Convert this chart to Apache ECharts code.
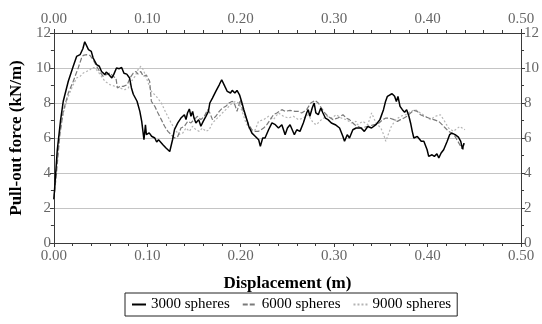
<!DOCTYPE html>
<html>
<head>
<meta charset="utf-8">
<script src="https://cdn.jsdelivr.net/npm/echarts@6/dist/echarts.min.js"></script>
<style>
  html, body { margin: 0; padding: 0; background: #fff; }
  #chart { width: 542px; height: 324px; }
</style>
</head>
<body>
<div id="chart"></div>
<script>
// displacement (m), pull-out force (kN/m)
var spheres3000 = [[0,2.5],[0.0036,5.3],[0.0071,7.0],[0.010,8.1],[0.0154,9.24],[0.0207,10.1],[0.0243,10.66],[0.028,10.76],[0.031,11.1],[0.033,11.5],[0.037,11.05],[0.040,10.95],[0.042,10.57],[0.0457,10.19],[0.0486,10.1],[0.051,9.8],[0.0546,9.62],[0.056,9.77],[0.059,9.62],[0.062,9.43],[0.064,9.62],[0.067,10.0],[0.070,9.96],[0.0725,10.03],[0.075,9.7],[0.078,9.65],[0.081,9.43],[0.083,8.86],[0.085,8.5],[0.087,8.6],[0.089,8.1],[0.092,7.52],[0.094,6.95],[0.0964,5.9],[0.098,6.76],[0.099,6.19],[0.102,6.29],[0.1046,6.1],[0.108,6.0],[0.110,5.77],[0.112,5.9],[0.1136,6.0],[0.1167,5.62],[0.120,5.43],[0.124,5.23],[0.1255,5.33],[0.127,5.9],[0.129,6.47],[0.1326,6.86],[0.136,7.14],[0.1397,7.33],[0.1414,7.05],[0.143,7.43],[0.145,7.66],[0.1467,7.24],[0.1485,7.52],[0.150,7.14],[0.152,6.86],[0.155,7.05],[0.1573,6.67],[0.1598,6.95],[0.1627,7.24],[0.1654,7.52],[0.1669,8.0],[0.1697,8.28],[0.1733,8.66],[0.177,9.04],[0.1796,9.33],[0.181,9.42],[0.183,8.95],[0.1856,8.66],[0.189,8.57],[0.1909,8.72],[0.1937,8.57],[0.196,8.72],[0.1987,8.47],[0.2008,8.1],[0.2033,7.62],[0.206,7.14],[0.2086,6.67],[0.212,6.28],[0.2157,6.09],[0.2192,5.9],[0.221,5.52],[0.2235,6.0],[0.226,6.0],[0.2298,6.47],[0.2334,6.86],[0.237,6.76],[0.2404,6.57],[0.244,6.76],[0.2475,6.19],[0.250,6.57],[0.2528,6.76],[0.2574,6.19],[0.260,6.47],[0.2634,6.38],[0.267,6.86],[0.2705,7.43],[0.2722,7.62],[0.274,7.24],[0.2765,7.71],[0.2786,8.0],[0.2804,7.43],[0.283,7.33],[0.2857,7.71],[0.288,7.43],[0.2906,7.14],[0.2934,7.05],[0.297,6.86],[0.3012,6.76],[0.3058,6.57],[0.3094,6.09],[0.3111,5.81],[0.314,6.19],[0.3164,6.0],[0.320,6.47],[0.3235,6.57],[0.3253,6.67],[0.3288,6.57],[0.3323,6.38],[0.336,6.66],[0.340,6.57],[0.3447,6.76],[0.349,7.05],[0.3528,7.62],[0.355,8.09],[0.357,8.38],[0.3598,8.47],[0.362,8.53],[0.3647,8.38],[0.3666,8.09],[0.3683,8.38],[0.3705,7.81],[0.373,7.62],[0.3754,7.47],[0.3776,7.62],[0.380,7.24],[0.3818,6.86],[0.3836,6.38],[0.3853,6.0],[0.389,6.09],[0.3932,5.81],[0.396,5.81],[0.3995,5.33],[0.4012,4.95],[0.4048,5.04],[0.4073,4.95],[0.410,5.1],[0.412,4.86],[0.4145,5.14],[0.4172,5.33],[0.421,5.81],[0.4236,6.19],[0.426,6.28],[0.4295,6.19],[0.433,6.05],[0.4355,5.81],[0.4373,5.38],[0.439,5.71]];

var spheres6000 = [[0,2.5],[0.0029,4.09],[0.0064,6.19],[0.01,7.52],[0.0154,8.57],[0.0207,9.24],[0.026,10.0],[0.0296,10.57],[0.0314,10.72],[0.035,10.76],[0.0386,10.72],[0.042,10.47],[0.0457,10.1],[0.049,9.8],[0.0528,9.52],[0.056,9.62],[0.06,9.71],[0.0636,9.52],[0.0664,9.43],[0.068,8.86],[0.0707,8.95],[0.0743,8.95],[0.0786,9.05],[0.0814,9.43],[0.085,9.71],[0.0879,9.8],[0.09,9.65],[0.093,9.8],[0.0957,9.52],[0.099,9.6],[0.1007,9.7],[0.1025,9.24],[0.1043,8.1],[0.108,7.81],[0.1114,7.43],[0.115,7.05],[0.1185,6.67],[0.122,6.38],[0.1256,6.19],[0.129,6.0],[0.1326,6.09],[0.136,6.57],[0.1397,6.67],[0.1432,6.95],[0.1467,6.86],[0.15,7.05],[0.1538,7.24],[0.1573,7.05],[0.161,7.24],[0.1645,7.62],[0.167,7.43],[0.1697,7.05],[0.1733,7.24],[0.177,7.52],[0.1803,7.71],[0.184,7.81],[0.1874,8.0],[0.191,8.1],[0.1937,7.9],[0.196,7.52],[0.198,7.43],[0.1997,8.19],[0.2015,7.71],[0.205,7.24],[0.2086,6.76],[0.212,6.47],[0.2156,6.38],[0.219,6.38],[0.2245,6.57],[0.228,6.76],[0.2316,7.05],[0.235,7.33],[0.2387,7.43],[0.244,7.62],[0.2475,7.52],[0.2528,7.58],[0.258,7.52],[0.2617,7.52],[0.2652,7.43],[0.2705,7.62],[0.275,8.0],[0.2794,8.15],[0.283,8.0],[0.2864,7.71],[0.29,7.43],[0.2934,7.24],[0.2988,7.05],[0.304,7.14],[0.3094,7.33],[0.313,7.14],[0.3164,7.05],[0.322,6.76],[0.329,6.57],[0.336,6.67],[0.343,6.76],[0.348,6.86],[0.3522,7.05],[0.3553,7.14],[0.359,7.14],[0.364,7.05],[0.3677,6.95],[0.371,7.05],[0.3747,7.14],[0.378,7.24],[0.3818,7.43],[0.3853,7.58],[0.389,7.52],[0.3924,7.33],[0.396,7.24],[0.4013,7.14],[0.4066,7.05],[0.412,6.95],[0.4155,6.76],[0.419,6.57],[0.4224,6.38],[0.426,6.28],[0.4294,6.09],[0.431,6.0],[0.4355,5.52],[0.438,5.33],[0.439,5.7]];

var spheres9000 = [[0,2.5],[0.0029,4.28],[0.0064,6.38],[0.01,7.43],[0.0154,8.38],[0.0207,9.05],[0.0243,9.43],[0.028,9.52],[0.0314,9.71],[0.035,9.8],[0.0386,9.9],[0.0414,10.03],[0.044,10.0],[0.0475,9.77],[0.051,9.52],[0.0546,9.24],[0.06,9.05],[0.0654,8.95],[0.0707,8.86],[0.076,8.76],[0.0796,8.86],[0.083,9.24],[0.0868,9.52],[0.09,9.9],[0.093,10.1],[0.0957,9.9],[0.099,9.43],[0.1043,8.67],[0.1096,8.38],[0.115,8.0],[0.12,7.43],[0.1255,6.86],[0.131,6.38],[0.134,6.2],[0.136,6.19],[0.1379,6.28],[0.1414,6.57],[0.145,6.38],[0.1485,6.67],[0.152,6.47],[0.1556,6.38],[0.159,6.57],[0.1627,6.38],[0.1662,6.47],[0.1697,6.86],[0.1733,7.05],[0.177,7.24],[0.1803,7.43],[0.184,7.62],[0.1874,7.81],[0.191,8.0],[0.1944,8.09],[0.198,8.0],[0.2015,7.52],[0.205,6.95],[0.2086,6.57],[0.212,6.38],[0.2156,6.47],[0.219,6.95],[0.2245,7.05],[0.2298,7.24],[0.235,7.05],[0.2404,7.43],[0.2457,7.24],[0.251,7.14],[0.2563,7.24],[0.2617,7.05],[0.267,7.14],[0.2722,7.33],[0.2776,6.86],[0.281,6.76],[0.2864,7.05],[0.2917,7.24],[0.297,7.14],[0.3023,7.33],[0.3076,7.14],[0.313,7.05],[0.3182,6.86],[0.3235,6.95],[0.325,6.76],[0.3306,6.95],[0.336,6.76],[0.3401,7.43],[0.3447,6.86],[0.35,6.57],[0.353,6.19],[0.3553,5.81],[0.3578,6.19],[0.3613,6.67],[0.366,7.05],[0.371,7.24],[0.3764,7.33],[0.3818,7.52],[0.387,7.62],[0.3924,7.43],[0.3977,7.24],[0.403,7.05],[0.4084,7.24],[0.4137,7.33],[0.4172,7.05],[0.4224,6.57],[0.4277,6.38],[0.4295,6.38],[0.4345,6.66],[0.44,6.47]];

var seriesNames = ['3000 spheres', '6000 spheres', '9000 spheres'];
var xTicks = { min: 0, max: 0.5, interval: 0.1 };
var yTicks = { min: 0, max: 12, interval: 2 };

var myChart = echarts.init(document.getElementById('chart'));
var serif = '"Liberation Serif", "DejaVu Serif", serif';
var axisColor = '#3a3a3a';
var labelColor = '#666';

function xAxisBase (pos) {
  return {
    type: 'value',
    position: pos,
    min: xTicks.min,
    max: xTicks.max,
    interval: xTicks.interval,
    axisLine: { show: true, onZero: false, lineStyle: { color: axisColor, width: 1 } },
    axisTick: { show: true, length: 4, lineStyle: { color: axisColor } },
    minorTick: { show: true, splitNumber: 5, length: 3, lineStyle: { color: axisColor } },
    splitLine: { show: false },
    axisLabel: {
      margin: 6,
      color: labelColor,
      fontFamily: serif,
      fontSize: 15,
      formatter: function (v) { return v.toFixed(2) }
    }
  }
}

function yAxisBase (pos) {
  return {
    type: 'value',
    position: pos,
    min: yTicks.min,
    max: yTicks.max,
    interval: yTicks.interval,
    axisLine: { show: true, onZero: false, lineStyle: { color: axisColor, width: 1 } },
    axisTick: { show: true, length: 4, lineStyle: { color: axisColor } },
    minorTick: { show: true, splitNumber: 2, length: 3, lineStyle: { color: axisColor } },
    splitLine: { show: false },
    axisLabel: { margin: 3, color: labelColor, fontFamily: serif, fontSize: 15 }
  }
}

var xBottom = xAxisBase('bottom');
xBottom.name = 'Displacement (m)';
xBottom.nameLocation = 'middle';
xBottom.nameGap = 32;
xBottom.nameTextStyle = { color: '#000', fontFamily: serif, fontSize: 17, fontWeight: 'bold' };

var yLeft = yAxisBase('left');
yLeft.name = 'Pull-out force (kN/m)';
yLeft.nameLocation = 'middle';
yLeft.nameGap = 20;
yLeft.nameTextStyle = { color: '#000', fontFamily: serif, fontSize: 17, fontWeight: 'bold' };
yLeft.splitLine = { show: true, lineStyle: { color: '#c4c4c4', width: 1 } };

var yRight = yAxisBase('right');

var option = {
  animation: false,
  backgroundColor: '#fff',
  grid: { left: 53, right: 18, top: 33, bottom: 81 },
  legend: {
    left: 125,
    top: 293,
    orient: 'horizontal',
    borderColor: '#222',
    borderWidth: 1,
    padding: [4, 6, 4, 6],
    itemWidth: 14,
    itemHeight: 10,
    itemGap: 12,
    itemStyle: { opacity: 0 },
    textStyle: { color: '#000', fontFamily: serif, fontSize: 15 },
    data: seriesNames
  },
  xAxis: [xBottom, xAxisBase('top')],
  yAxis: [yLeft, yRight],
  series: [
    {
      name: seriesNames[0],
      type: 'line',
      symbol: 'none',
      data: spheres3000,
      lineStyle: { color: '#000', width: 1.5 },
      itemStyle: { color: '#000' },
      z: 5
    },
    {
      name: seriesNames[1],
      type: 'line',
      symbol: 'none',
      data: spheres6000,
      lineStyle: { color: '#7a7a7a', width: 1.2, type: [5, 2] },
      itemStyle: { color: '#7a7a7a' },
      z: 4
    },
    {
      name: seriesNames[2],
      type: 'line',
      symbol: 'none',
      data: spheres9000,
      lineStyle: { color: '#b4b4b4', width: 1.2, type: [2, 2] },
      itemStyle: { color: '#b4b4b4' },
      z: 3
    }
  ]
};
option && myChart.setOption(option);
</script>
</body>
</html>
